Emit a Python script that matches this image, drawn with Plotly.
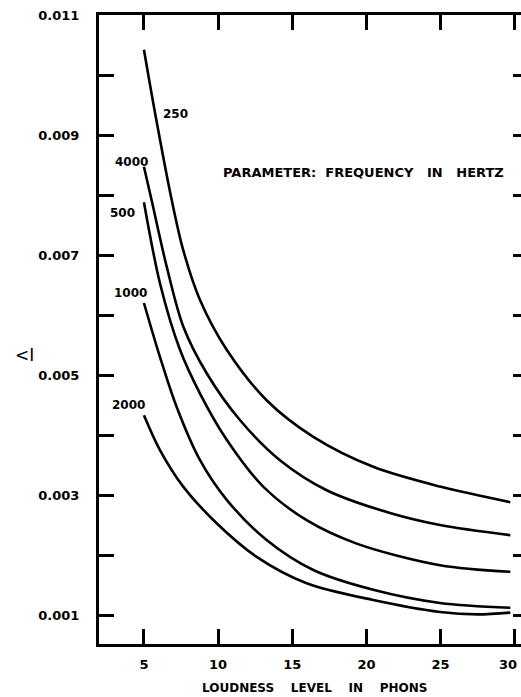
import plotly.graph_objects as go

# Loudness level (phons) and relative difference limen readings for each frequency
x_250 = [5.0, 5.74, 6.87, 7.65, 8.78, 10.58, 13.27, 16.42, 20.46, 24.97, 29.7]
y_250 = [0.01042, 0.00938, 0.00792, 0.00708, 0.00625, 0.00542, 0.00458, 0.00397, 0.00347, 0.00314, 0.00288]

x_4000 = [5.0, 5.51, 6.53, 7.65, 9.23, 11.47, 14.17, 17.32, 21.59, 24.96, 29.7]
y_4000 = [0.00847, 0.00792, 0.00681, 0.00581, 0.00503, 0.00425, 0.00358, 0.00308, 0.00270, 0.00250, 0.00233]

x_500 = [5.0, 6.08, 7.43, 8.78, 10.58, 13.04, 15.97, 19.34, 24.96, 29.7]
y_500 = [0.00788, 0.00653, 0.00542, 0.00469, 0.00392, 0.00314, 0.00258, 0.00219, 0.00183, 0.00172]

x_1000 = [5.0, 6.08, 7.2, 8.78, 10.58, 13.27, 16.42, 20.46, 24.96, 29.7]
y_1000 = [0.00620, 0.00530, 0.00447, 0.00358, 0.00292, 0.00225, 0.00175, 0.00142, 0.00120, 0.00112]

x_2000 = [5.0, 6.08, 7.65, 9.9, 12.6, 15.97, 20.46, 24.96, 27.5, 29.7]
y_2000 = [0.00433, 0.00375, 0.00314, 0.00253, 0.00197, 0.00153, 0.00125, 0.00105, 0.00101, 0.00104]

series = [("250", x_250, y_250), ("4000", x_4000, y_4000), ("500", x_500, y_500),
          ("1000", x_1000, y_1000), ("2000", x_2000, y_2000)]

x_ticks = [5, 10, 15, 20, 25, 30]
x_ticktext = ["5", "10", "15", "20", "25", ""]   # the edge label "30" is placed separately so it stays on the page
y_ticks = [0.001, 0.002, 0.003, 0.004, 0.005, 0.006, 0.007, 0.008, 0.009, 0.010, 0.011]
y_ticktext = ["0.001", "", "0.003", "", "0.005", "", "0.007", "", "0.009", "", "0.011"]

FONT = "DejaVu Sans"
TICKFONT = dict(family=FONT, size=13, color="black", weight="bold")

fig = go.Figure()
for name, xs, ys in series:
    fig.add_trace(go.Scatter(x=xs, y=ys, mode="lines", name=name,
                             line=dict(color="black", width=2.6, shape="spline", smoothing=0.9),
                             showlegend=False, hoverinfo="skip"))

# invisible trace so the right-hand tick axis is drawn
fig.add_trace(go.Scatter(x=[x_ticks[0]], y=[y_ticks[0]], yaxis="y2", mode="markers",
                         marker=dict(opacity=0), showlegend=False, hoverinfo="skip"))

labels = [("250", 7.16, 0.00935), ("4000", 4.19, 0.00855), ("500", 3.58, 0.00770),
          ("1000", 4.06, 0.00637), ("2000", 3.99, 0.00450)]
for t, lx, ly in labels:
    fig.add_annotation(x=lx, y=ly, text=t, showarrow=False,
                       font=dict(family=FONT, size=12, color="black", weight="bold"))

fig.add_annotation(x=x_ticks[-1], y=-(664 - 644) / 629, xref="x", yref="paper",
                   text=str(x_ticks[-1]), showarrow=False, xanchor="right", xshift=4,
                   yanchor="middle", font=TICKFONT)

fig.add_annotation(x=19.83, y=0.00838, text="PARAMETER:  FREQUENCY   IN   HERTZ", showarrow=False,
                   font=dict(family=FONT, size=13, color="black", weight="bold"))

# y-axis label (paper coords are relative to the plot area: left 99 px, height 629 px)
fig.add_annotation(x=(13 - 99) / 422, y=(644 - 355) / 629, xref="paper", yref="paper",
                   text="&lt;I", showarrow=False, xanchor="left", yanchor="middle",
                   font=dict(family=FONT, size=17, color="black"))

fig.add_annotation(x=(314 - 99) / 422, y=-(688 - 644) / 629, xref="paper", yref="paper",
                   text="LOUDNESS    LEVEL    IN    PHONS", showarrow=False, yanchor="middle",
                   font=dict(family=FONT, size=12, color="black", weight="bold"))

fig.update_layout(
    width=521, height=697,
    margin=dict(l=99, r=0, t=15, b=53, autoexpand=False),
    paper_bgcolor="white", plot_bgcolor="white",
    xaxis=dict(range=[1.97, 30.42], tickvals=x_ticks, ticktext=x_ticktext,
               ticks="inside", ticklen=15, tickwidth=2.5, tickcolor="black",
               showline=True, linewidth=3, linecolor="black", mirror="ticks",
               showgrid=False, zeroline=False, ticklabelstandoff=6, automargin=False,
               ticklabeloverflow="allow", tickfont=TICKFONT),
    yaxis=dict(range=[0.000517, 0.011], tickvals=y_ticks, ticktext=y_ticktext,
               ticks="inside", ticklen=15, tickwidth=3, tickcolor="black",
               showline=True, linewidth=3, linecolor="black",
               showgrid=False, zeroline=False, ticklabelstandoff=14, automargin=False,
               ticklabeloverflow="allow", tickfont=TICKFONT),
    yaxis2=dict(range=[0.000517, 0.011], tickvals=y_ticks, overlaying="y", side="right",
                anchor="x", ticks="inside", ticklen=8, tickwidth=3, tickcolor="black",
                showline=False, showgrid=False, zeroline=False, showticklabels=False,
                automargin=False),
)

fig.write_html("out.html", config={"displayModeBar": False},
               post_script="document.body.style.margin='0px';")
